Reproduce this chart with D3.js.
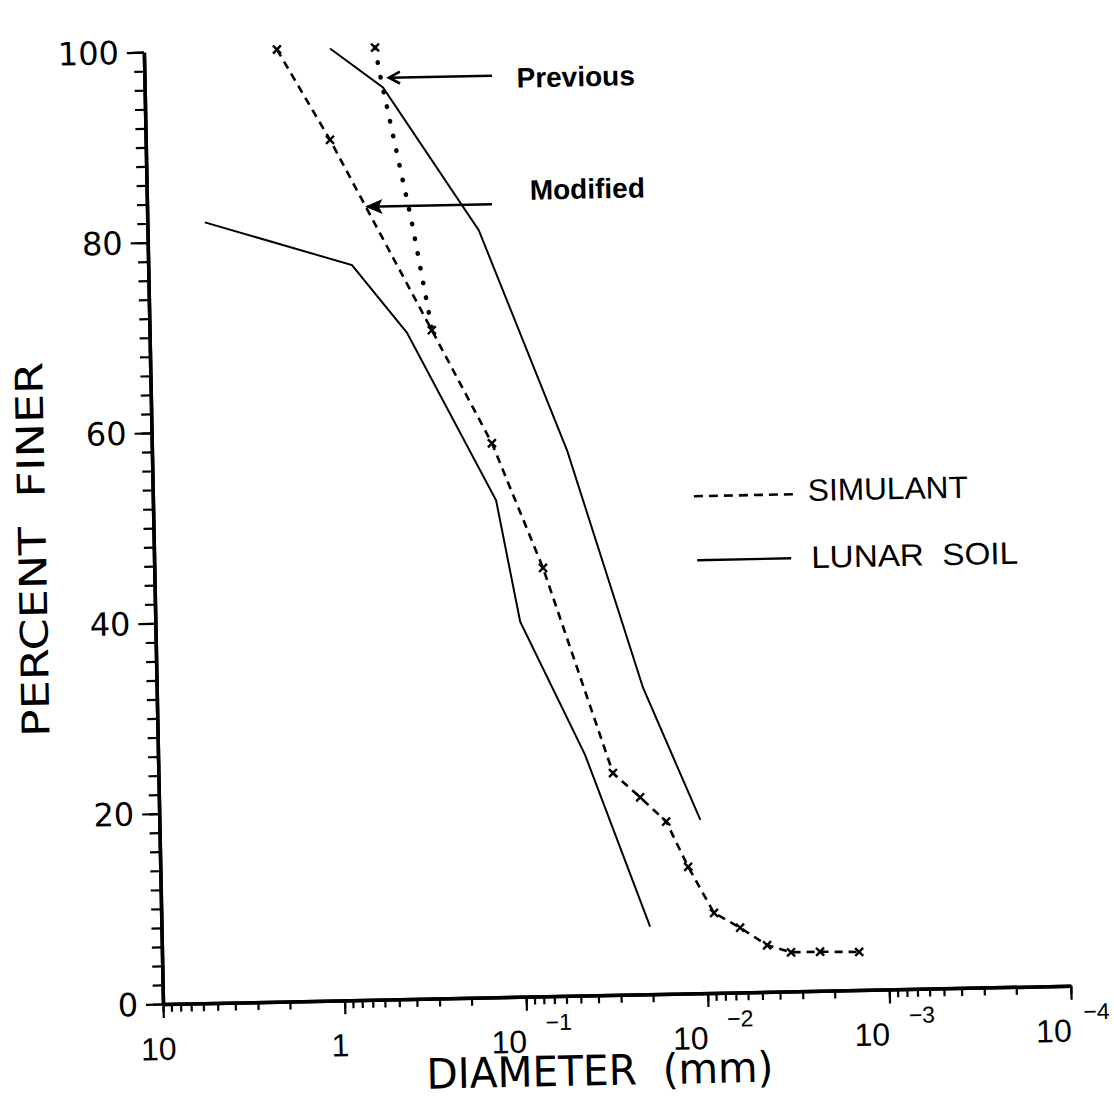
<!DOCTYPE html>
<html>
<head>
<meta charset="utf-8">
<script src="https://cdn.jsdelivr.net/npm/d3@7"></script>
<style>
  body { margin: 0; background: #fff; }
  svg { display: block; }
</style>
</head>
<body>
<svg id="chart" width="1114" height="1103"></svg>
<script>
// grain size curves: diameter (mm) / percent finer
const lunarCoarseD = [4.82, 0.755, 0.383, 0.129, 0.098, 0.0446, 0.0204];
const lunarCoarseP = [82.0, 77.2, 70.0, 52.2, 39.4, 25.3, 7.1];
const lunarFineD = [0.944, 0.487, 0.150, 0.0518, 0.0210, 0.0105];
const lunarFineP = [100, 95.8, 80.6, 57.3, 32.2, 18.2];
const simModD = [1.85, 0.966, 0.279, 0.134, 0.0724, 0.0314, 0.0224, 0.0162, 0.0124, 0.00904, 0.00652, 0.00465, 0.00344, 0.00238, 0.00145];
const simModP = [100, 90.4, 70.2, 58.2, 45.0, 23.3, 20.7, 18.1, 13.3, 8.4, 6.8, 4.9, 4.1, 4.1, 4.0];
const simPrevD = [0.533, 0.504, 0.349, 0.278];
const simPrevP = [100, 97.1, 81.5, 70.2];

const xDecades = [10, 1, 0.1, 0.01, 0.001, 0.0001];
const xTickBase = ["10", "1", "10", "10", "10", "10"];
const xTickExp = ["", "", "\u22121", "\u22122", "\u22123", "\u22124"];
const yMajor = [0, 20, 40, 60, 80, 100];
const yTickLabels = ["0", "20", "40", "60", "80", "100"];

// annotation arrows (data units): label, text pos, tip, tail
const noteLabels = ["Previous", "Modified"];
const noteTextD = [0.0894, 0.0778];
const noteTextP = [95.5, 83.7];
const noteTipD = [0.474, 0.615];
const noteTailD = [0.122, 0.126];
const noteP = [96.8, 83.3];

const ox = 163, oy = 1004; // plot origin
const plotW = 908, plotH = 952;
const tilt = -1.15; // the scan is slightly rotated

const svg = d3.select("#chart");
const g = svg.append("g").attr("transform", `rotate(${tilt},${ox},${oy})`);

const x = d3.scaleLog().domain([10, 1e-4]).range([ox, ox + plotW]);
const y = d3.scaleLinear().domain([0, 100]).range([oy, oy - plotH]);

// ---- axes
const xMinor = g.append("g").attr("transform", `translate(0,${oy})`)
    .call(d3.axisBottom(x).tickValues(x.ticks()).tickSize(8).tickFormat("").tickSizeOuter(0));
const xMaj = g.append("g").attr("transform", `translate(0,${oy})`)
    .call(d3.axisBottom(x).tickValues(xDecades).tickSize(14).tickFormat("").tickSizeOuter(0));
const yMinor = g.append("g").attr("transform", `translate(${ox},0)`)
    .call(d3.axisLeft(y).tickValues(d3.range(0, 101, 2)).tickSize(10).tickFormat("").tickSizeOuter(0));
const yMaj = g.append("g").attr("transform", `translate(${ox},0)`)
    .call(d3.axisLeft(y).tickValues(yMajor).tickSize(17).tickFormat("").tickSizeOuter(0));

[xMinor, xMaj, yMinor, yMaj].forEach(a => {
    a.select(".domain").attr("stroke", "#000").attr("stroke-width", 3.5);
    a.selectAll(".tick line").attr("stroke", "#000").attr("stroke-width", 2.2);
});

// y tick labels
g.selectAll(".ylab").data(yMajor).join("text")
    .attr("x", ox - 25)
    .attr("y", d => y(d))
    .attr("dy", "0.36em")
    .attr("text-anchor", "end")
    .style("font-family", "DejaVu Sans")
    .style("font-size", "32px")
    .text((d, i) => yTickLabels[i]);

// x tick labels (10, 1, then 10^-n)
xDecades.forEach((d, i) => {
    if (xTickExp[i] === "") {
        g.append("text")
            .attr("x", x(d) - 5).attr("y", oy + 56)
            .attr("text-anchor", "middle")
            .style("font-family", "Liberation Sans").style("font-size", "32px")
            .text(xTickBase[i]);
    } else {
        g.append("text")
            .attr("x", x(d)).attr("y", oy + 56)
            .attr("text-anchor", "end")
            .style("font-family", "Liberation Sans").style("font-size", "32px")
            .text(xTickBase[i]);
        g.append("text")
            .attr("x", x(d) + (i === xDecades.length - 1 ? 12 : 19)).attr("y", oy + 34)
            .style("font-family", "Liberation Sans").style("font-size", "23px")
            .text(xTickExp[i]);
    }
});

// axis titles
g.append("text")
    .attr("x", 425).attr("y", oy + 90)
    .attr("textLength", 347).attr("lengthAdjust", "spacingAndGlyphs")
    .style("font-family", "DejaVu Sans").style("font-size", "42px")
    .style("white-space", "pre")
    .text("DIAMETER  (mm)");
g.append("text")
    .attr("transform", `translate(55,${oy - 457}) rotate(-90)`)
    .attr("text-anchor", "middle")
    .attr("textLength", 375).attr("lengthAdjust", "spacingAndGlyphs")
    .style("font-family", "DejaVu Sans").style("font-size", "38px")
    .style("white-space", "pre")
    .text("PERCENT  FINER");

// ---- curves
const line = d3.line().x(d => x(d[0])).y(d => y(d[1]));

g.append("path").datum(d3.zip(lunarCoarseD, lunarCoarseP))
    .attr("d", line).attr("fill", "none").attr("stroke", "#000").attr("stroke-width", 2);
g.append("path").datum(d3.zip(lunarFineD, lunarFineP))
    .attr("d", line).attr("fill", "none").attr("stroke", "#000").attr("stroke-width", 2);
g.append("path").datum(d3.zip(simModD, simModP))
    .attr("d", line).attr("fill", "none").attr("stroke", "#000")
    .attr("stroke-width", 2.6).attr("stroke-dasharray", "8,6");
g.append("path").datum(d3.zip(simPrevD, simPrevP))
    .attr("d", line).attr("fill", "none").attr("stroke", "#000")
    .attr("stroke-width", 4.5).attr("stroke-linecap", "round").attr("stroke-dasharray", "0.5,14.5");

// small x marks on the simulant points
const cross = "M-4,-4L4,4M-4,4L4,-4";
g.selectAll(".mk").data(d3.zip(simModD, simModP).concat([[simPrevD[0], simPrevP[0]]])).join("path")
    .attr("transform", d => `translate(${x(d[0])},${y(d[1])})`)
    .attr("d", cross).attr("stroke", "#000").attr("stroke-width", 2.4);

// ---- annotations
noteLabels.forEach((lab, i) => {
    const tx = x(noteTipD[i]) + (i === 0 ? 4 : 0), ty = y(noteP[i]);
    g.append("line")
        .attr("x1", tx).attr("y1", ty).attr("x2", x(noteTailD[i])).attr("y2", ty)
        .attr("stroke", "#000").attr("stroke-width", 2.6);
    if (i === 0) {
        g.append("path")
            .attr("d", `M${tx + 11},${ty - 6}L${tx},${ty}L${tx + 11},${ty + 6}`)
            .attr("fill", "none").attr("stroke", "#000").attr("stroke-width", 2.6);
    } else {
        g.append("path")
            .attr("d", `M${tx},${ty}L${tx + 14},${ty - 6}L${tx + 11},${ty}L${tx + 14},${ty + 6}Z`)
            .attr("fill", "#000").attr("stroke", "#000").attr("stroke-width", 1.5);
    }
    g.append("text")
        .attr("x", x(noteTextD[i])).attr("y", y(noteTextP[i]))
        .style("font-family", "Liberation Sans").style("font-weight", "bold")
        .style("font-size", "28px")
        .text(lab);
});

// ---- legend
const legend = g.append("g");
legend.append("line").attr("x1", 704).attr("x2", 803).attr("y1", 507).attr("y2", 507)
    .attr("stroke", "#000").attr("stroke-width", 2.6).attr("stroke-dasharray", "9,6");
legend.append("text").attr("x", 818).attr("y", 514)
    .attr("textLength", 160).attr("lengthAdjust", "spacingAndGlyphs")
    .style("font-family", "Liberation Sans").style("font-size", "31px")
    .text("SIMULANT");
legend.append("line").attr("x1", 706).attr("x2", 800).attr("y1", 571).attr("y2", 571)
    .attr("stroke", "#000").attr("stroke-width", 2.4);
legend.append("text").attr("x", 820).attr("y", 581)
    .attr("textLength", 207).attr("lengthAdjust", "spacingAndGlyphs")
    .style("font-family", "Liberation Sans").style("font-size", "31px")
    .style("white-space", "pre")
    .text("LUNAR  SOIL");
</script>
</body>
</html>
